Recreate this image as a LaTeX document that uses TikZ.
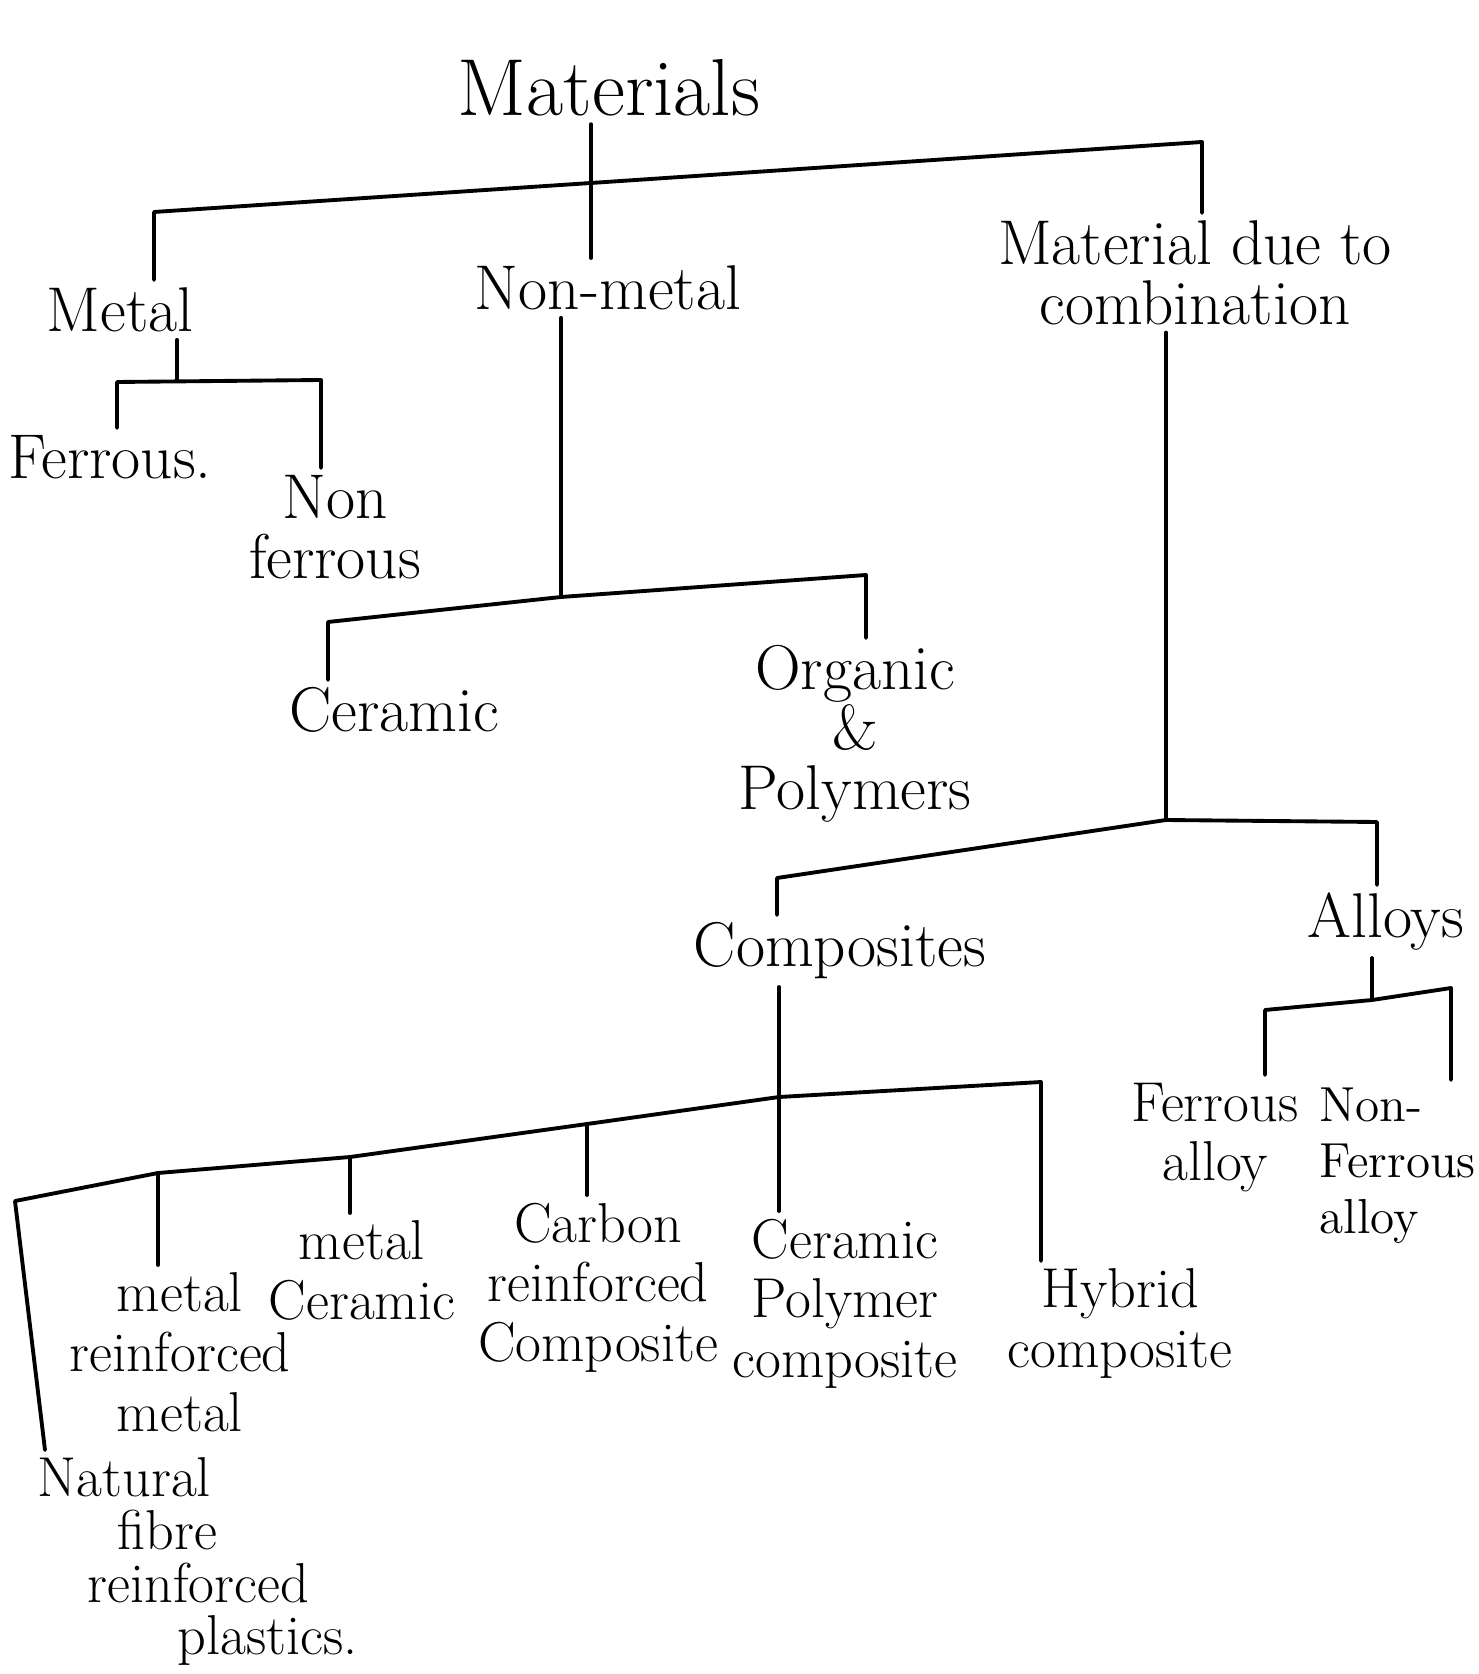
\documentclass[tikz,border=0pt]{standalone}
\usepackage{tikz}

\begin{document}
\begin{tikzpicture}[
    x=0.1mm, y=-0.1mm,
    word/.style={font=\fontsize{18}{17}\selectfont, align=center, anchor=north, inner sep=2pt},
    small/.style={word, font=\fontsize{16}{17}\selectfont},
    branch/.style={line width=1.1pt, line cap=round, line join=round}
]
\useasboundingbox (0,0) rectangle (1478,1674);

\node[word, font=\fontsize{23}{26}\selectfont] (mat) at (609,52) {Materials};
\node[word] (metal) at (120,280) {Metal};
\node[word] (nonmetal) at (608,258) {Non-metal};
\node[word] (combo) at (1195,213) {Material due to\\combination};

\node[word] (ferrous) at (110,428) {Ferrous.};
\node[word] (nonferrous) at (335,468) {Non\\ferrous};
\node[word] (ceramic) at (394,680) {Ceramic};
\node[word] (organic) at (855,638) {Organic\\\&\\Polymers};

\node[word] (composites) at (840,915) {Composites};
\node[word] (alloys) at (1386,885) {Alloys};
\node[small] (falloy) at (1215,1075) {Ferrous\\alloy};
\node[small, font=\fontsize{14}{16}\selectfont, anchor=north west, align=left] (nfalloy) at (1312,1080) {Non-\\Ferrous\\alloy};

\node[small] (mrm) at (180,1265) {metal\\reinforced\\metal};
\node[small] (mc) at (362,1213) {metal\\Ceramic};
\node[small] (crc) at (598,1195) {Carbon\\reinforced\\Composite};
\node[small] (cpc) at (845,1211) {Ceramic\\Polymer\\composite};
\node[small] (hc) at (1120,1261) {Hybrid\\composite};
\node[small, font=\fontsize{16}{15}\selectfont, anchor=north west, align=left] (natural) at (30,1450)
    {Natural\\\hspace*{8mm}fibre\\\hspace*{5mm}reinforced\\\hspace*{14mm}plastics.};

\coordinate (bL) at (154,212);
\coordinate (bM) at (591,183);
\coordinate (bR) at (1202,142);
\draw[branch] (bL |- metal.north) -- (bL) -- (bM) -- (bR) -- (bR |- combo.north);
\draw[branch] (bM |- mat.south) -- (bM) -- (bM |- nonmetal.north);

\coordinate (m0) at (177,381);
\coordinate (m1) at (117,382);
\coordinate (m2) at (321,380);
\draw[branch] (m0 |- metal.south) -- (m0);
\draw[branch] (m1 |- ferrous.north) -- (m1) -- (m2) -- (m2 |- nonferrous.north);

\coordinate (n0) at (561,597);
\coordinate (n1) at (328,622);
\coordinate (n2) at (866,575);
\draw[branch] (n0 |- nonmetal.south) -- (n0);
\draw[branch] (n1 |- ceramic.north) -- (n1) -- (n0) -- (n2) -- (n2 |- organic.north);

\coordinate (c0) at (1166,820);
\coordinate (c1) at (777,878);
\coordinate (c2) at (1377,822);
\draw[branch] (c0 |- combo.south) -- (c0);
\draw[branch] (c1 |- composites.north) -- (c1) -- (c0) -- (c2) -- (c2 |- alloys.north);

\coordinate (a0) at (1372,1000);
\coordinate (a1) at (1265,1010);
\coordinate (a2) at (1451,988);
\draw[branch] (a0 |- alloys.south) -- (a0);
\draw[branch] (a1 |- falloy.north) -- (a1) -- (a0) -- (a2) -- (a2 |- nfalloy.north);

\coordinate (k0) at (779,1097);
\coordinate (k1) at (15,1201);
\coordinate (k2) at (158,1173);
\coordinate (k3) at (350,1157);
\coordinate (k4) at (587,1124);
\coordinate (k5) at (1041,1082);
\draw[branch] (k0 |- composites.south) -- (k0) -- (k0 |- cpc.north);
\draw[branch] ([xshift=1.5mm]natural.north west) -- (k1) -- (k2) -- (k3) -- (k4) -- (k0) -- (k5) -- (k5 |- hc.north);
\draw[branch] (k2) -- (k2 |- mrm.north);
\draw[branch] (k3) -- (k3 |- mc.north);
\draw[branch] (k4) -- (k4 |- crc.north);
\end{tikzpicture}
\end{document}
